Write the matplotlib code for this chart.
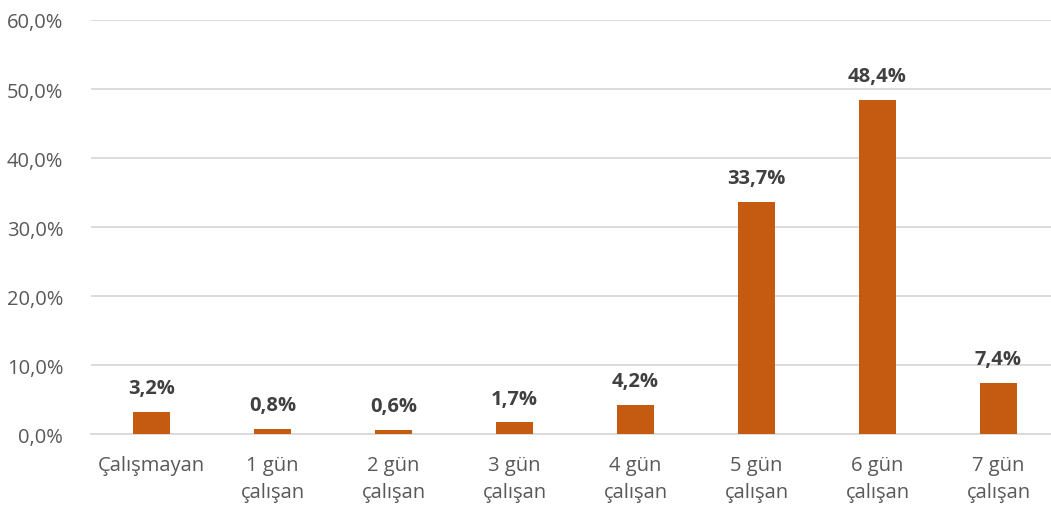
import matplotlib
matplotlib.use("Agg")
import matplotlib.pyplot as plt
import numpy as np

plt.rcParams.update({
    "font.family": ["Open Sans", "DejaVu Sans"],
})

## parameters
fs_tick = 14.5
fs_lab = 14.5
col_bar = "#C55A11"
col_txt = "#595959"
col_val = "#404040"
col_grid = "#D9D9D9"

##--------------- data ---------------##
categories = ["Çalışmayan", "1 gün\nçalışan", "2 gün\nçalışan", "3 gün\nçalışan",
              "4 gün\nçalışan", "5 gün\nçalışan", "6 gün\nçalışan", "7 gün\nçalışan"]
values = [3.2, 0.8, 0.6, 1.7, 4.2, 33.7, 48.4, 7.4]
y_ticks = [0, 10, 20, 30, 40, 50, 60]

##--------------- plot ---------------##
fig = plt.figure(figsize=(10.51, 5.06), dpi=100)
# plot area runs past the right edge, as in the cropped original
ax = fig.add_axes([0.0866, 0.140, 0.921, 0.8185])

x = np.arange(len(categories))
ax.bar(x, values, width=0.31, color=col_bar, zorder=3)

for xi, v in zip(x, values):
    ax.annotate(f"{v:.1f}%".replace(".", ","), (xi, v), xytext=(0, 10),
                textcoords="offset points", ha="center", va="bottom",
                fontsize=fs_lab, fontweight="bold", color=col_val)

ax.set_xlim(-0.5, len(categories) - 0.5)
ax.set_ylim(0, 60)
ax.set_yticks(y_ticks)
ax.set_yticklabels([f"{t:.1f}%".replace(".", ",") for t in y_ticks])
ax.set_xticks(x)
ax.set_xticklabels(categories, linespacing=1.5)

ax.yaxis.grid(True, color=col_grid, lw=1.3, zorder=0)
for s in ["top", "right", "left"]:
    ax.spines[s].set_visible(False)
ax.spines["bottom"].set_color(col_grid)
ax.spines["bottom"].set_linewidth(1.3)
ax.tick_params(axis="both", length=0, labelsize=fs_tick, labelcolor=col_txt)
ax.tick_params(axis="x", pad=15)
ax.tick_params(axis="y", pad=20)

fig.savefig("out.png", dpi=100)
